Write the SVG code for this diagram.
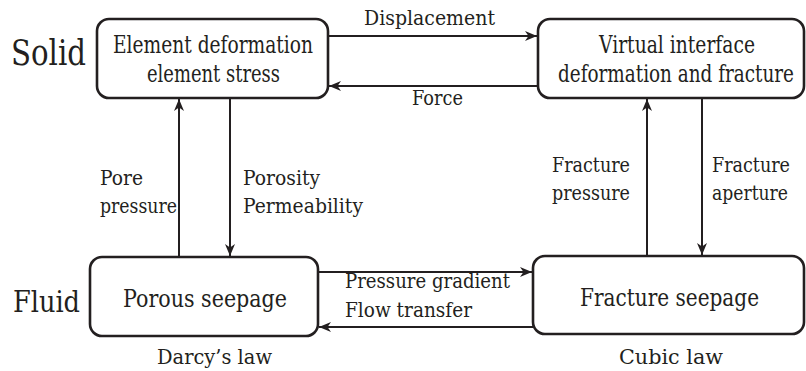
<svg xmlns="http://www.w3.org/2000/svg" width="806" height="371" viewBox="0 0 806 371">
<style>
  .box { fill: #ffffff; stroke: #231f20; stroke-width: 2.6; }
  text { font-family: "DejaVu Serif", "Liberation Serif", serif; fill: #231f20; }
  .lbl { font-size: 24px; }
  .al { font-size: 21px; }
  .conn { stroke: #231f20; stroke-width: 2; fill: none; marker-end: url(#ah); }
</style>
<defs>
  <marker id="ah" viewBox="0 0 12 10" refX="12" refY="5" markerWidth="12" markerHeight="10" markerUnits="userSpaceOnUse" orient="auto">
    <path d="M0,0 L12,5 L0,10 L3.5,5 z" fill="#231f20"/>
  </marker>
</defs>
<rect width="806" height="371" fill="#ffffff"/>

<text x="11" y="65" font-size="35" textLength="75" lengthAdjust="spacingAndGlyphs">Solid</text>
<text x="13" y="312" font-size="30" textLength="67" lengthAdjust="spacingAndGlyphs">Fluid</text>

<g id="connectors">
  <line class="conn" x1="329" y1="36" x2="537" y2="36"/>
  <line class="conn" x1="537" y1="86" x2="329" y2="86"/>
  <line class="conn" x1="179" y1="257" x2="179" y2="99"/>
  <line class="conn" x1="230" y1="98" x2="230" y2="256"/>
  <line class="conn" x1="647" y1="256" x2="647" y2="99"/>
  <line class="conn" x1="702" y1="98" x2="702" y2="255"/>
  <line class="conn" x1="319" y1="272" x2="532" y2="272"/>
  <line class="conn" x1="533" y1="327" x2="319" y2="327"/>
  <text class="al" x="364" y="25" textLength="131" lengthAdjust="spacingAndGlyphs">Displacement</text>
  <text class="al" x="412" y="105" textLength="51" lengthAdjust="spacingAndGlyphs">Force</text>
  <text class="al" x="100" y="185" textLength="43" lengthAdjust="spacingAndGlyphs">Pore</text>
  <text class="al" x="100" y="213" textLength="77" lengthAdjust="spacingAndGlyphs">pressure</text>
  <text class="al" x="243" y="185" textLength="77" lengthAdjust="spacingAndGlyphs">Porosity</text>
  <text class="al" x="243" y="213" textLength="120" lengthAdjust="spacingAndGlyphs">Permeability</text>
  <text class="al" x="552" y="172" textLength="78" lengthAdjust="spacingAndGlyphs">Fracture</text>
  <text class="al" x="552" y="200" textLength="78" lengthAdjust="spacingAndGlyphs">pressure</text>
  <text class="al" x="712" y="172" textLength="78" lengthAdjust="spacingAndGlyphs">Fracture</text>
  <text class="al" x="712" y="200" textLength="76" lengthAdjust="spacingAndGlyphs">aperture</text>
  <text class="al" x="345" y="288" textLength="165" lengthAdjust="spacingAndGlyphs">Pressure gradient</text>
  <text class="al" x="345" y="317" textLength="127" lengthAdjust="spacingAndGlyphs">Flow transfer</text>
</g>

<g id="node-element">
  <rect class="box" x="97" y="19" width="231" height="79" rx="12"/>
  <text class="lbl" x="113" y="53" textLength="200" lengthAdjust="spacingAndGlyphs">Element deformation</text>
  <text class="lbl" x="147" y="82" textLength="133" lengthAdjust="spacingAndGlyphs">element stress</text>
</g>

<g id="node-interface">
  <rect class="box" x="538" y="19" width="266" height="79" rx="12"/>
  <text class="lbl" x="599" y="53" textLength="156" lengthAdjust="spacingAndGlyphs">Virtual interface</text>
  <text class="lbl" x="794" y="82" text-anchor="end" textLength="236" lengthAdjust="spacingAndGlyphs">deformation and fracture</text>
</g>

<g id="node-porous">
  <rect class="box" x="90" y="257" width="228" height="79" rx="12"/>
  <text class="lbl" x="123" y="307" textLength="164" lengthAdjust="spacingAndGlyphs">Porous seepage</text>
  <text class="al" x="157" y="364" textLength="115" lengthAdjust="spacingAndGlyphs">Darcy’s law</text>
</g>

<g id="node-fracture">
  <rect class="box" x="533" y="256" width="271" height="78" rx="12"/>
  <text class="lbl" x="580" y="306" textLength="179" lengthAdjust="spacingAndGlyphs">Fracture seepage</text>
  <text class="al" x="619" y="364" textLength="104" lengthAdjust="spacingAndGlyphs">Cubic law</text>
</g>
</svg>
